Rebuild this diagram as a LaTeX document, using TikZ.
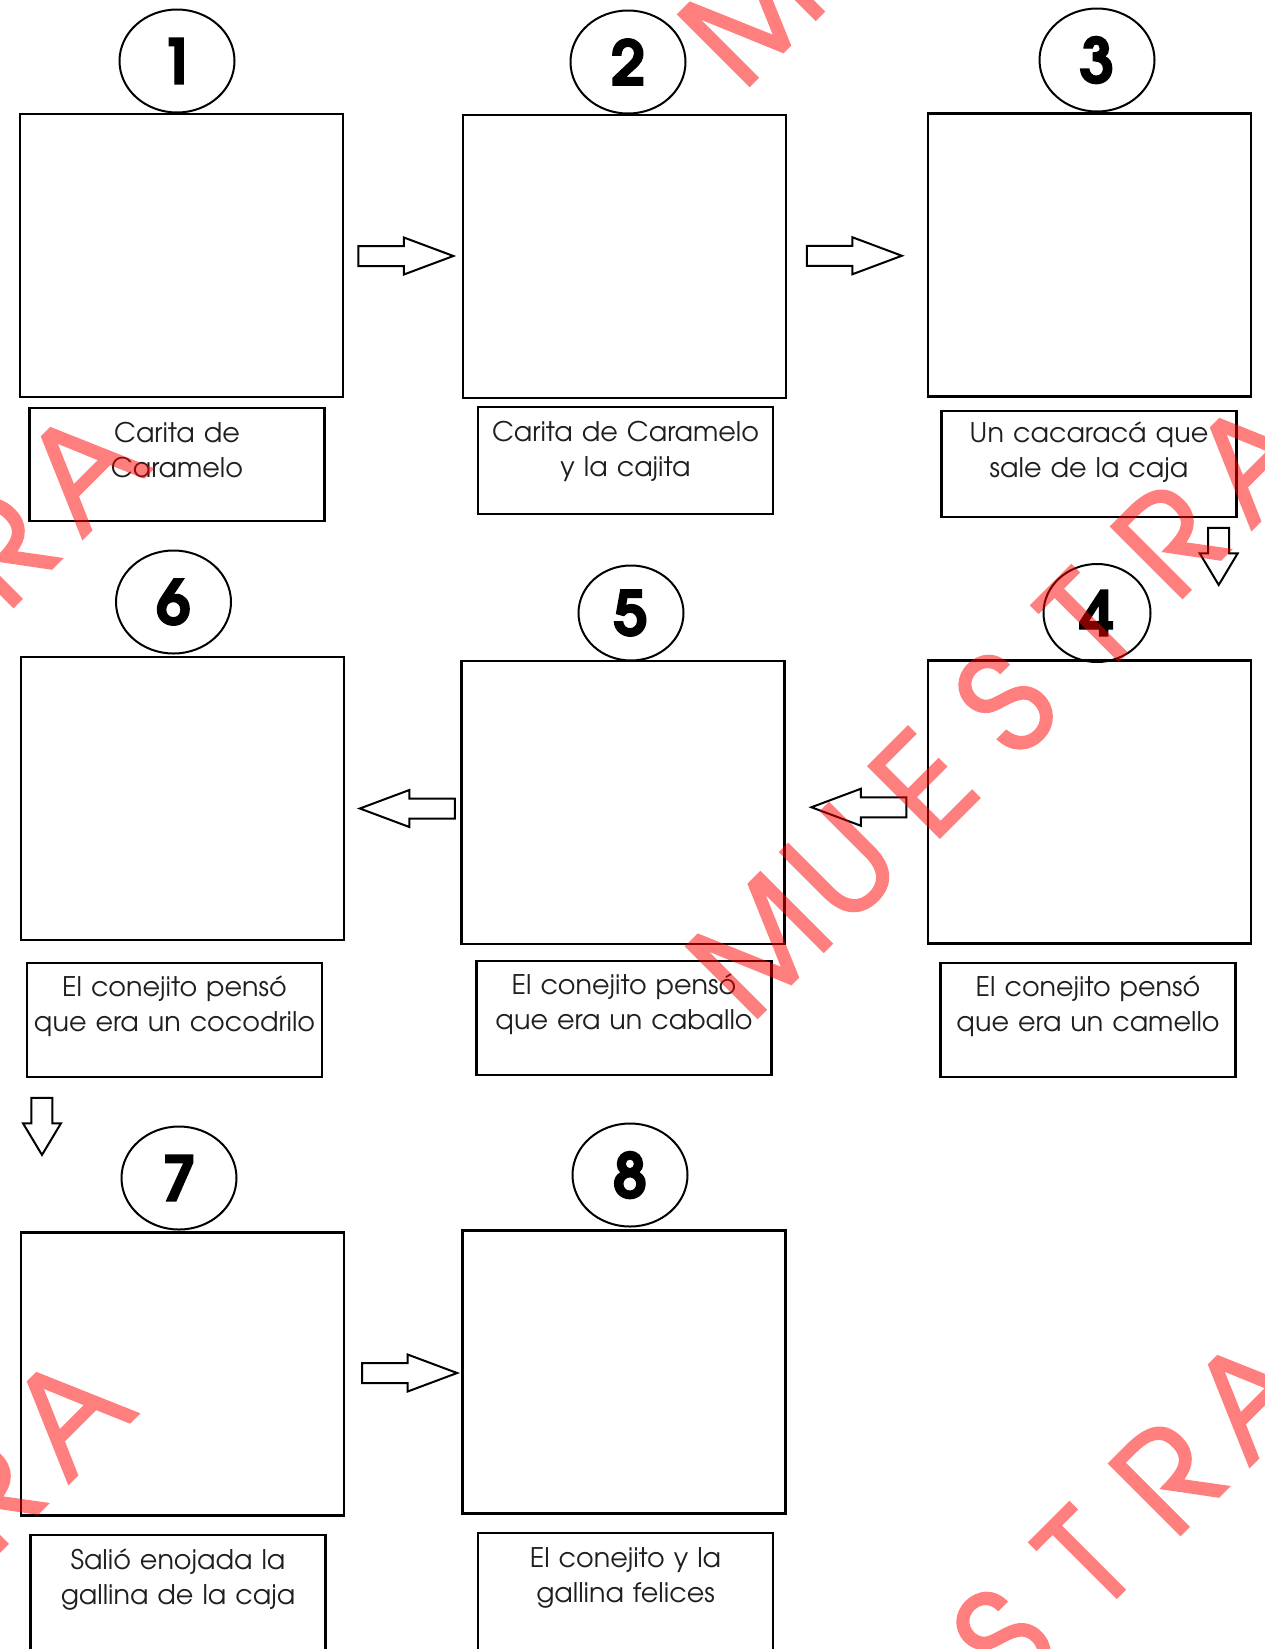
\documentclass[tikz,border=0pt]{standalone}
\usepackage{fontspec}
\setmainfont{texgyreadventor}[Extension=.otf,UprightFont=*-regular,BoldFont=*-bold,ItalicFont=*-italic,BoldItalicFont=*-bolditalic]
\newfontfamily\numfont{texgyreadventor}[Extension=.otf,UprightFont=*-bold,FakeBold=2]
\newfontfamily\markfont{texgyreadventor}[Extension=.otf,UprightFont=*-regular,FakeBold=2.5]
\usetikzlibrary{shapes.geometric,shapes.arrows}

\begin{document}
\begin{tikzpicture}[x=1pt,y=-1pt,
    box/.style={draw,line width=2.5pt,minimum width=323pt,minimum height=283pt,inner sep=0pt},
    num/.style={draw,ellipse,line width=2pt,minimum width=115pt,minimum height=103pt,inner sep=0pt,font=\numfont\fontsize{62}{62}\selectfont},
    caption/.style={draw,line width=2.2pt,anchor=north,text width=295pt,inner sep=0pt,align=center,text=black!88,font=\fontsize{27}{35}\selectfont},
    rarrow/.style={draw,single arrow,line width=2pt,fill=white,inner xsep=0pt,inner ysep=9pt,minimum height=95pt,minimum width=35pt,single arrow head extend=8.5pt,single arrow tip angle=41},
    larrow/.style={rarrow,rotate=180},
    darrow/.style={rarrow,rotate=-90,inner ysep=9.5pt,minimum height=57pt,minimum width=36pt,single arrow tip angle=62},
    watermark/.style={text=red,rotate=45,inner sep=0pt,font=\markfont\fontsize{135}{135}\selectfont}]

        \useasboundingbox (0,0) rectangle (1264,1649);
        \fill[white] (0,0) rectangle (1264,1649);

        \node[box] at (181.5,255.5) (B1) {};
        \node[box] at (624.5,256.5) (B2) {};
        \node[box] at (1089.5,255) (B3) {};
        \node[box] at (1089.5,802) (B4) {};
        \node[box] at (623,802.5) (B5) {};
        \node[box] at (182.5,798.5) (B6) {};
        \node[box] at (182.5,1374) (B7) {};
        \node[box] at (624,1372) (B8) {};

        \node[num] at (177,61) (N1) {1};
        \node[num] at (628,62) (N2) {2};
        \node[num] at (1097,60) (N3) {3};
        \node[num,minimum width=107pt,minimum height=98pt] at (1097,613) (N4) {4};
        \node[num,minimum width=105pt,minimum height=95pt] at (631,613) (N5) {5};
        \node[num] at (173.5,602) (N6) {6};
        \node[num] at (179,1178) (N7) {7};
        \node[num] at (630,1175) (N8) {8};

        \node[caption,text height=34pt,text depth=79pt] at (177,407) (C1) {Carita de\\Caramelo};
        \node[caption,text height=34pt,text depth=73pt] at (625.5,406) (C2) {Carita de Caramelo\\y la cajita};
        \node[caption,text height=31pt,text depth=75pt] at (1089,410) (C3) {Un cacaracá que\\sale de la caja};
        \node[caption,text height=33pt,text depth=81pt] at (1088,962) (C4) {El conejito pensó\\que era un camello};
        \node[caption,text height=33pt,text depth=81pt] at (624,960) (C5) {El conejito pensó\\que era un caballo};
        \node[caption,text height=33pt,text depth=81pt] at (174.5,962) (C6) {El conejito pensó\\que era un cocodrilo};
        \node[caption,text height=34pt,text depth=84pt] at (178,1534) (C7) {Salió enojada la\\gallina de la caja};
        \node[caption,text height=34pt,text depth=86pt] at (625.5,1532) (C8) {El conejito y la\\gallina felices};

        \path (B1) -- node[xshift=-10.5pt,rarrow] (A12) {} (B2);
        \path (B2) -- node[xshift=-16pt,rarrow] (A23) {} (B3);
        \path (C3.south east) -- node[pos=.28,xshift=-23pt,yshift=10pt,darrow] (A34) {} (B4.north east);
        \path (B4) -- node[xshift=16pt,yshift=-5pt,larrow] (A45) {} (B5);
        \path (B5) -- node[xshift=18pt,yshift=-8pt,larrow] (A56) {} (B6);
        \path (C6.south west) -- node[pos=.31,xshift=18pt,yshift=8pt,darrow] (A67) {} (B7.north west);
        \path (B7) -- node[xshift=-7pt,rarrow] (A78) {} (B8);

        \begin{scope}[transparency group,opacity=.5]
        \foreach \mx/\my [count=\i] in {759/945,751/13,757/1882,-410/954,-424/1899}
            \foreach \l [count=\k from 0] in {M,U,E,S,T,R,A}
                \node[watermark] at (\mx+82*\k,\my-81*\k) (W\i-\k) {\l};
        \end{scope}
\end{tikzpicture}
\end{document}
